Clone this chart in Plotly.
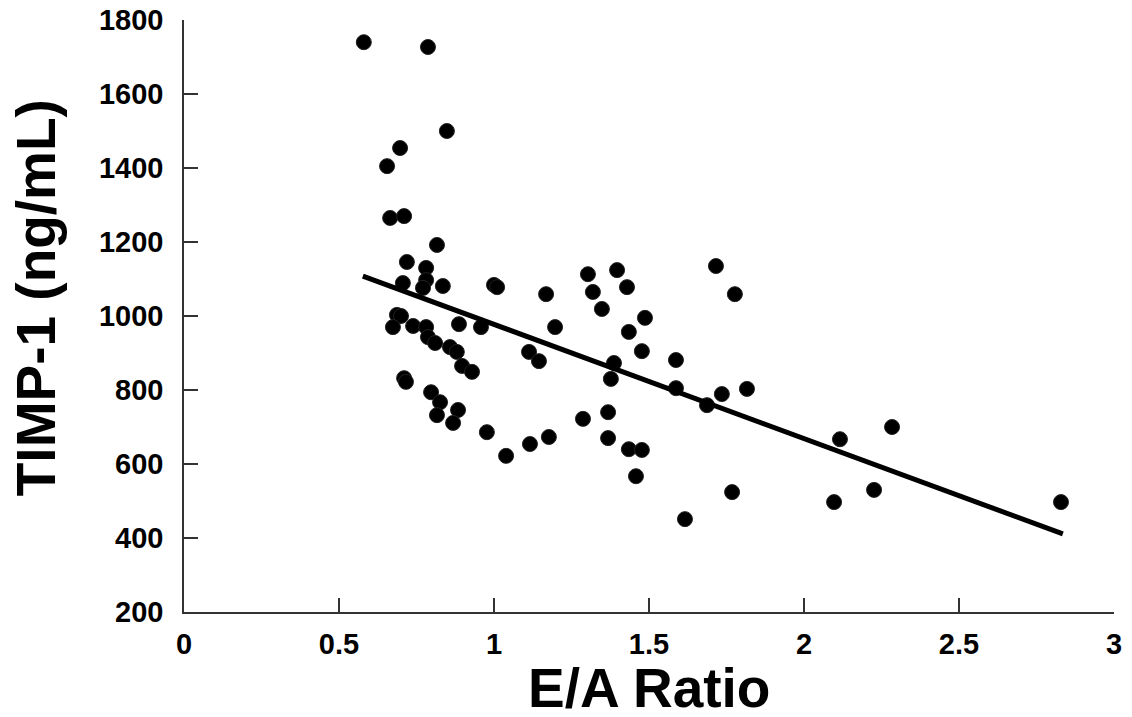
import plotly.graph_objects as go

ea_ratio = [0.58, 0.787, 0.848, 0.697, 0.655,
            0.665, 0.710, 0.816, 0.719, 0.781, 0.781, 0.706, 0.771, 0.835, 1.00, 1.01,
            0.687, 0.700, 0.674, 0.739, 0.781, 0.787, 0.810, 0.858, 0.880, 0.887, 0.958,
            0.897, 0.929, 0.710, 0.716, 0.797, 0.826, 0.884, 0.816, 0.868, 0.977,
            1.113, 1.145, 1.116, 1.303, 1.397, 1.319, 1.429, 1.168, 1.348, 1.487, 1.435,
            1.197, 1.477, 1.387, 1.377, 1.587, 1.587, 1.687, 1.735, 1.816, 1.716, 1.777,
            1.287, 1.368, 1.368, 1.177, 1.039, 1.435, 1.477, 1.458, 1.768, 1.616,
            2.116, 2.284, 2.097, 2.226, 2.829]
timp1 = [1740, 1727, 1500, 1454, 1405,
         1265, 1270, 1192, 1146, 1130, 1097, 1089, 1076, 1081, 1084, 1078,
         1003, 1000, 970, 973, 970, 943, 927, 916, 903, 978, 970,
         865, 849, 832, 822, 794, 767, 746, 732, 711, 686,
         903, 878, 654, 1113, 1124, 1065, 1078, 1059, 1019, 995, 957,
         970, 905, 873, 830, 881, 805, 759, 789, 803, 1135, 1059,
         722, 740, 670, 673, 622, 640, 638, 567, 524, 451,
         667, 700, 497, 530, 497]

fit_x = [0.577, 2.835]
fit_y = [1108, 411]

x_ticks = [0, 0.5, 1, 1.5, 2, 2.5, 3]
x_tick_labels = ["0", "0.5", "1", "1.5", "2", "2.5", "3"]
y_ticks = [200, 400, 600, 800, 1000, 1200, 1400, 1600, 1800]
y_tick_labels = [str(v) for v in y_ticks]

x_title = "E/A Ratio"
y_title = "TIMP-1 (ng/mL)"

font_family = "Liberation Sans, Arial, sans-serif"

fig = go.Figure()
fig.add_trace(go.Scatter(
    x=ea_ratio, y=timp1, mode="markers",
    marker=dict(size=15, color="black", line=dict(color="#222222", width=1)),
    showlegend=False, cliponaxis=False,
))
fig.add_trace(go.Scatter(
    x=fit_x, y=fit_y, mode="lines",
    line=dict(color="black", width=5),
    showlegend=False, cliponaxis=False,
))

fig.update_layout(
    width=1132, height=717,
    margin=dict(l=176, r=26, t=12, b=113, autoexpand=False),
    paper_bgcolor="white", plot_bgcolor="white",
    font=dict(family=font_family, color="black"),
    annotations=[
        dict(text="<b>" + x_title + "</b>", xref="paper", yref="paper",
             x=0.5, y=0, xanchor="center", yanchor="middle", yshift=-76,
             showarrow=False, font=dict(size=55, family=font_family, color="black")),
        dict(text="<b>" + y_title + "</b>", xref="paper", yref="paper",
             x=0, y=0.53, xanchor="center", yanchor="middle", xshift=-148,
             textangle=-90, showarrow=False,
             font=dict(size=55, family=font_family, color="black")),
    ],
)
fig.update_xaxes(
    range=[0, 3], tickvals=x_ticks, ticktext=x_tick_labels,
    ticks="inside", ticklen=14, tickwidth=1.5, tickcolor="#333333",
    showline=True, linecolor="#333333", linewidth=1.5,
    showgrid=False, zeroline=False, automargin=False,
    tickfont=dict(size=29, family=font_family, weight="bold"),
    ticklabelstandoff=5, ticklabeloverflow="allow",
)
fig.update_yaxes(
    range=[200, 1800], tickvals=y_ticks, ticktext=y_tick_labels,
    ticks="inside", ticklen=14, tickwidth=1.5, tickcolor="#333333",
    showline=True, linecolor="#333333", linewidth=1.5,
    showgrid=False, zeroline=False, automargin=False,
    tickfont=dict(size=29, family=font_family, weight="bold"),
    ticklabelstandoff=13, ticklabeloverflow="allow",
)

fig.write_html("out.html")
